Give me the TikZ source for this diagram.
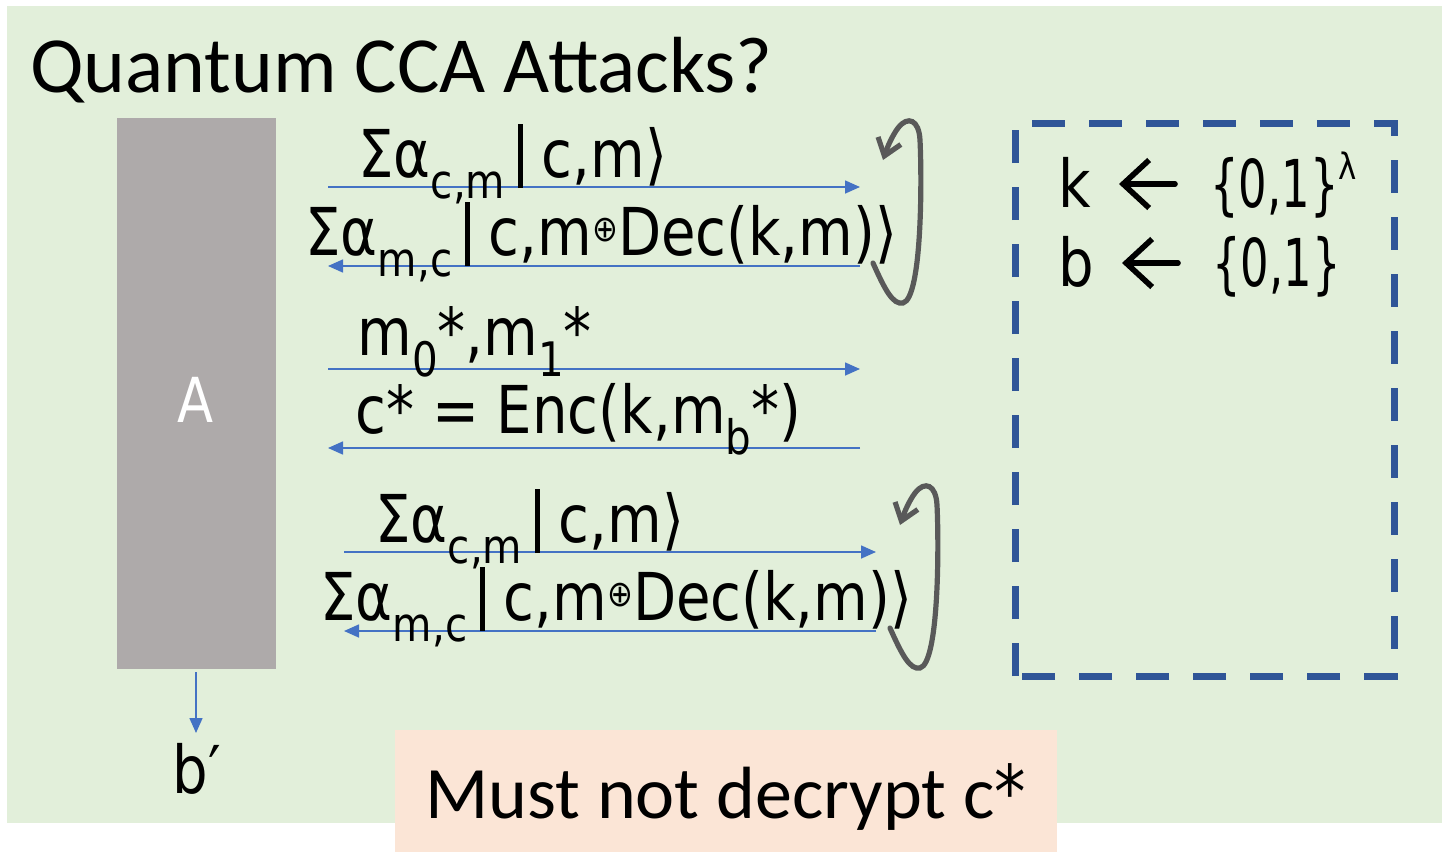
\documentclass[tikz,border=0pt]{standalone}
\usepackage{fontspec}
\setmainfont{Carlito}
\newfontfamily\lab[FakeStretch=0.85]{DejaVu Sans}
\usetikzlibrary{arrows.meta}

\definecolor{bggreen}{HTML}{E2EFDA}
\definecolor{boxgray}{HTML}{AEAAAA}
\definecolor{msgblue}{HTML}{4472C4}
\definecolor{keyblue}{HTML}{2F5597}
\definecolor{loopgray}{HTML}{595959}
\definecolor{notepink}{HTML}{FBE5D6}

% lowered subscript, raised superscript, small xor sign, ket bar
\newcommand\lo[1]{\raisebox{-.32em}{\scalebox{.72}{#1}}}
\newcommand\hi[1]{\raisebox{.42em}{\scalebox{.55}{#1}}}
\newcommand\xo{\raisebox{.2em}{\scalebox{.55}{⊕}}}
\newcommand\kb{\hspace{.2em}\rule[-.17em]{.075em}{.97em}\hspace{.28em}}

\tikzset{
  msg/.style={draw=msgblue, line width=0.8pt, -{Triangle[length=7.5pt,width=6.5pt]}},
  lbl/.style={anchor=base west, inner sep=0pt, font=\lab\fontsize{33}{40}\selectfont},
  loop/.style={draw=loopgray, line width=2.6pt, line cap=round,
    -{Straight Barb[length=8pt,width=12pt]}},
  gets/.style={draw=black, line width=2.8pt, line cap=round,
    -{Straight Barb[length=13pt,width=24pt]}},
}

\begin{document}
\begin{tikzpicture}[x=0.5pt, y=-0.5pt]
  \useasboundingbox (0,0) rectangle (1442,852);
  \fill[white] (0,0) rectangle (1442,852);
  \fill[bggreen] (7,6) rectangle (1442,823);

  % title
  \node[anchor=base west, inner sep=0pt, font=\fontsize{39.8}{46}\selectfont]
    (title) at (30,92) {Quantum CCA Attacks?};

  % adversary
  \node[fill=boxgray, minimum width=79.5pt, minimum height=275.5pt, inner sep=0pt,
        anchor=north west] (adv) at (117,118) {};
  \node[text=white, font=\lab\fontsize{31}{36}\selectfont] (advlbl) at (196,400) {A};
  \coordinate (guessTop) at (196,672);
  \node[lbl] (guess) at (172,793) {b′};
  \draw[msg] (guessTop) -- (196,733);

  % message arrow end points
  \coordinate (l1) at (328,187); \coordinate (r1) at (860,187);
  \coordinate (l2) at (328,266); \coordinate (r2) at (860,266);
  \coordinate (l3) at (328,369); \coordinate (r3) at (860,369);
  \coordinate (l4) at (328,448); \coordinate (r4) at (860,448);
  \coordinate (l5) at (344,552); \coordinate (r5) at (876,552);
  \coordinate (l6) at (344,631); \coordinate (r6) at (876,631);
  \draw[msg] (l1) -- (r1);
  \draw[msg] (r2) -- (l2);
  \draw[msg] (l3) -- (r3);
  \draw[msg] (r4) -- (l4);
  \draw[msg] (l5) -- (r5);
  \draw[msg] (r6) -- (l6);

  % message labels
  \node[lbl] (q1) at (358,177) {Σα\lo{c,m}\kb c,m⟩};
  \node[lbl] (a1) at (305,255) {Σα\lo{m,c}\kb c,m\xo Dec(k,m)⟩};
  \node[lbl] (ch) at (357,355) {m\lo{0}*,m\lo{1}*};
  \node[lbl] (ct) at (355,433) {c* = Enc(k,m\lo{b}*)};
  \node[lbl] (q2) at (375,542) {Σα\lo{c,m}\kb c,m⟩};
  \node[lbl] (a2) at (320,620) {Σα\lo{m,c}\kb c,m\xo Dec(k,m)⟩};

  % decryption oracle loops
  \draw[loop] (873,263) .. controls (885,290) and (893,305) .. (903,303)
    .. controls (922,298) and (922,180) .. (920,140)
    .. controls (919,120) and (908,115) .. (898,128)
    .. controls (892,136) and (887,148) .. (883,160);
  \draw[loop] (890,628) .. controls (902,655) and (910,670) .. (920,668)
    .. controls (939,663) and (939,545) .. (937,505)
    .. controls (936,485) and (925,480) .. (915,493)
    .. controls (909,501) and (904,513) .. (900,525);

  % challenger
  \draw[keyblue, line width=3.5pt, dash pattern=on 16.5pt off 12pt]
    (1015,676) -- (1015,123) -- (1394,123) -- (1394,676) -- cycle;
  \node[lbl] (kvar) at (1058,207) {k};
  \node[lbl] (kset) at (1210,207) {\scalebox{.8}[1]{\{0,1\}}\hi{λ}};
  \node[lbl] (bvar) at (1058,286) {b};
  \node[lbl] (bset) at (1212,286) {\scalebox{.8}[1]{\{0,1\}}};
  \coordinate (kfrom) at (1175,184); \coordinate (kto) at (1119,184);
  \coordinate (bfrom) at (1178,263); \coordinate (bto) at (1122,263);
  \draw[gets] (kfrom) -- (kto);
  \draw[gets] (bfrom) -- (bto);

  % note
  \fill[notepink] (395,730) rectangle (1057,852);
  \node[anchor=base west, inner sep=0pt, font=\fontsize{37}{42}\selectfont]
    (note) at (425,818) {Must not decrypt c{\lab*}};
\end{tikzpicture}
\end{document}
